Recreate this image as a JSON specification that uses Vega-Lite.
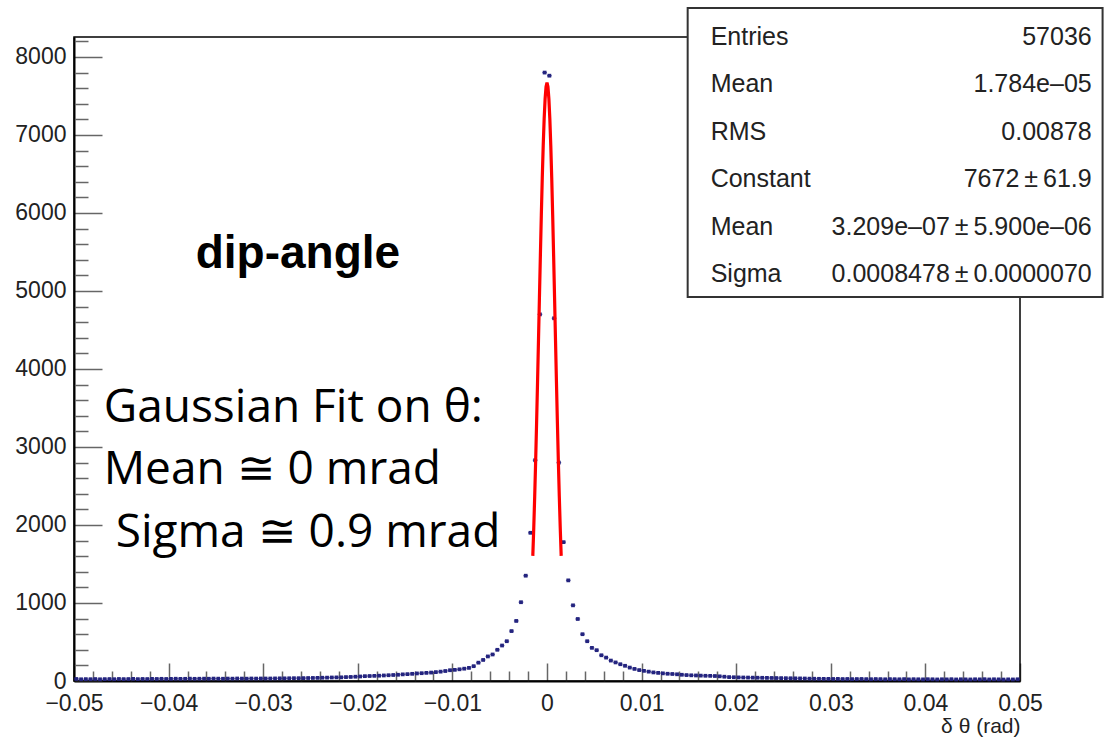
{
  "$schema": "https://vega.github.io/schema/vega-lite/v6.json",
  "width": 946,
  "height": 644,
  "autosize": "none",
  "padding": {"left": 74, "top": 37, "right": 92, "bottom": 59},
  "background": "white",
  "config": {"view": {"stroke": null}},
  "datasets": {
    "hist": [
      {"x": -0.04975, "n": 26}, {"x": -0.04925, "n": 22}, {"x": -0.04875, "n": 24}, {"x": -0.04825, "n": 23},
      {"x": -0.04775, "n": 25}, {"x": -0.04725, "n": 22}, {"x": -0.04675, "n": 24}, {"x": -0.04625, "n": 25},
      {"x": -0.04575, "n": 23}, {"x": -0.04525, "n": 26}, {"x": -0.04475, "n": 24}, {"x": -0.04425, "n": 25},
      {"x": -0.04375, "n": 27}, {"x": -0.04325, "n": 24}, {"x": -0.04275, "n": 26}, {"x": -0.04225, "n": 25},
      {"x": -0.04175, "n": 27}, {"x": -0.04125, "n": 26}, {"x": -0.04075, "n": 28}, {"x": -0.04025, "n": 26},
      {"x": -0.03975, "n": 27}, {"x": -0.03925, "n": 29}, {"x": -0.03875, "n": 27}, {"x": -0.03825, "n": 28},
      {"x": -0.03775, "n": 30}, {"x": -0.03725, "n": 28}, {"x": -0.03675, "n": 29}, {"x": -0.03625, "n": 30},
      {"x": -0.03575, "n": 29}, {"x": -0.03525, "n": 31}, {"x": -0.03475, "n": 30}, {"x": -0.03425, "n": 29},
      {"x": -0.03375, "n": 31}, {"x": -0.03325, "n": 30}, {"x": -0.03275, "n": 32}, {"x": -0.03225, "n": 31},
      {"x": -0.03175, "n": 30}, {"x": -0.03125, "n": 32}, {"x": -0.03075, "n": 31}, {"x": -0.03025, "n": 32},
      {"x": -0.02975, "n": 32}, {"x": -0.02925, "n": 32}, {"x": -0.02875, "n": 33}, {"x": -0.02825, "n": 34},
      {"x": -0.02775, "n": 34}, {"x": -0.02725, "n": 35}, {"x": -0.02675, "n": 36}, {"x": -0.02625, "n": 36},
      {"x": -0.02575, "n": 37}, {"x": -0.02525, "n": 38}, {"x": -0.02475, "n": 39}, {"x": -0.02425, "n": 40},
      {"x": -0.02375, "n": 42}, {"x": -0.02325, "n": 43}, {"x": -0.02275, "n": 45}, {"x": -0.02225, "n": 46},
      {"x": -0.02175, "n": 47}, {"x": -0.02125, "n": 50}, {"x": -0.02075, "n": 52}, {"x": -0.02025, "n": 55},
      {"x": -0.01975, "n": 58}, {"x": -0.01925, "n": 62}, {"x": -0.01875, "n": 64}, {"x": -0.01825, "n": 66},
      {"x": -0.01775, "n": 68}, {"x": -0.01725, "n": 71}, {"x": -0.01675, "n": 74}, {"x": -0.01625, "n": 77},
      {"x": -0.01575, "n": 80}, {"x": -0.01525, "n": 85}, {"x": -0.01475, "n": 88}, {"x": -0.01425, "n": 92},
      {"x": -0.01375, "n": 97}, {"x": -0.01325, "n": 100}, {"x": -0.01275, "n": 104}, {"x": -0.01225, "n": 108},
      {"x": -0.01175, "n": 114}, {"x": -0.01125, "n": 120}, {"x": -0.01075, "n": 128}, {"x": -0.01025, "n": 138},
      {"x": -0.00975, "n": 143}, {"x": -0.00925, "n": 150}, {"x": -0.00875, "n": 158}, {"x": -0.00825, "n": 168},
      {"x": -0.00775, "n": 190}, {"x": -0.00725, "n": 235}, {"x": -0.00675, "n": 270}, {"x": -0.00625, "n": 315},
      {"x": -0.00575, "n": 340}, {"x": -0.00525, "n": 400}, {"x": -0.00475, "n": 455}, {"x": -0.00425, "n": 510},
      {"x": -0.00375, "n": 640}, {"x": -0.00325, "n": 770}, {"x": -0.00275, "n": 1010}, {"x": -0.00225, "n": 1350},
      {"x": -0.00175, "n": 1900}, {"x": -0.00125, "n": 2830}, {"x": -0.00075, "n": 4700}, {"x": -0.00025, "n": 7800},
      {"x": 0.00025, "n": 7760}, {"x": 0.00075, "n": 4650}, {"x": 0.00125, "n": 2800}, {"x": 0.00175, "n": 1780},
      {"x": 0.00225, "n": 1290}, {"x": 0.00275, "n": 970}, {"x": 0.00325, "n": 795}, {"x": 0.00375, "n": 600},
      {"x": 0.00425, "n": 510}, {"x": 0.00475, "n": 425}, {"x": 0.00525, "n": 395}, {"x": 0.00575, "n": 330},
      {"x": 0.00625, "n": 300}, {"x": 0.00675, "n": 262}, {"x": 0.00725, "n": 238}, {"x": 0.00775, "n": 215},
      {"x": 0.00825, "n": 195}, {"x": 0.00875, "n": 172}, {"x": 0.00925, "n": 155}, {"x": 0.00975, "n": 140},
      {"x": 0.01025, "n": 130}, {"x": 0.01075, "n": 120}, {"x": 0.01125, "n": 110}, {"x": 0.01175, "n": 104},
      {"x": 0.01225, "n": 98}, {"x": 0.01275, "n": 93}, {"x": 0.01325, "n": 90}, {"x": 0.01375, "n": 86},
      {"x": 0.01425, "n": 80}, {"x": 0.01475, "n": 76}, {"x": 0.01525, "n": 73}, {"x": 0.01575, "n": 71},
      {"x": 0.01625, "n": 69}, {"x": 0.01675, "n": 67}, {"x": 0.01725, "n": 66}, {"x": 0.01775, "n": 64},
      {"x": 0.01825, "n": 60}, {"x": 0.01875, "n": 55}, {"x": 0.01925, "n": 50}, {"x": 0.01975, "n": 48},
      {"x": 0.02025, "n": 46}, {"x": 0.02075, "n": 45}, {"x": 0.02125, "n": 44}, {"x": 0.02175, "n": 43},
      {"x": 0.02225, "n": 42}, {"x": 0.02275, "n": 41}, {"x": 0.02325, "n": 40}, {"x": 0.02375, "n": 39},
      {"x": 0.02425, "n": 38}, {"x": 0.02475, "n": 37}, {"x": 0.02525, "n": 36}, {"x": 0.02575, "n": 35},
      {"x": 0.02625, "n": 34}, {"x": 0.02675, "n": 33}, {"x": 0.02725, "n": 32}, {"x": 0.02775, "n": 30},
      {"x": 0.02825, "n": 29}, {"x": 0.02875, "n": 28}, {"x": 0.02925, "n": 27}, {"x": 0.02975, "n": 27},
      {"x": 0.03025, "n": 26}, {"x": 0.03075, "n": 27}, {"x": 0.03125, "n": 25}, {"x": 0.03175, "n": 26},
      {"x": 0.03225, "n": 24}, {"x": 0.03275, "n": 25}, {"x": 0.03325, "n": 26}, {"x": 0.03375, "n": 24},
      {"x": 0.03425, "n": 23}, {"x": 0.03475, "n": 25}, {"x": 0.03525, "n": 24}, {"x": 0.03575, "n": 22},
      {"x": 0.03625, "n": 24}, {"x": 0.03675, "n": 23}, {"x": 0.03725, "n": 22}, {"x": 0.03775, "n": 24},
      {"x": 0.03825, "n": 21}, {"x": 0.03875, "n": 23}, {"x": 0.03925, "n": 22}, {"x": 0.03975, "n": 21},
      {"x": 0.04025, "n": 23}, {"x": 0.04075, "n": 22}, {"x": 0.04125, "n": 20}, {"x": 0.04175, "n": 22},
      {"x": 0.04225, "n": 21}, {"x": 0.04275, "n": 23}, {"x": 0.04325, "n": 20}, {"x": 0.04375, "n": 22},
      {"x": 0.04425, "n": 21}, {"x": 0.04475, "n": 20}, {"x": 0.04525, "n": 22}, {"x": 0.04575, "n": 21},
      {"x": 0.04625, "n": 23}, {"x": 0.04675, "n": 20}, {"x": 0.04725, "n": 22}, {"x": 0.04775, "n": 21},
      {"x": 0.04825, "n": 19}, {"x": 0.04875, "n": 21}, {"x": 0.04925, "n": 20}, {"x": 0.04975, "n": 22}
    ],
    "fit": [
      {"x": -0.0015, "f": 1603.8}, {"x": -0.0014, "f": 1962.3}, {"x": -0.0013, "f": 2367.8}, {"x": -0.0012, "f": 2817.6},
      {"x": -0.0011, "f": 3306.6}, {"x": -0.001, "f": 3826.6}, {"x": -0.0009, "f": 4367.2}, {"x": -0.0008, "f": 4915.3},
      {"x": -0.0007, "f": 5455.9}, {"x": -0.0006, "f": 5972.5}, {"x": -0.0005, "f": 6447.4}, {"x": -0.0004, "f": 6863.9},
      {"x": -0.0003, "f": 7206.4}, {"x": -0.0002, "f": 7461.5}, {"x": -0.0001, "f": 7618.8}, {"x": 0, "f": 7672},
      {"x": 0.0001, "f": 7618.8}, {"x": 0.0002, "f": 7461.5}, {"x": 0.0003, "f": 7206.4}, {"x": 0.0004, "f": 6863.9},
      {"x": 0.0005, "f": 6447.4}, {"x": 0.0006, "f": 5972.5}, {"x": 0.0007, "f": 5455.9}, {"x": 0.0008, "f": 4915.3},
      {"x": 0.0009, "f": 4367.2}, {"x": 0.001, "f": 3826.6}, {"x": 0.0011, "f": 3306.6}, {"x": 0.0012, "f": 2817.6},
      {"x": 0.0013, "f": 2367.8}, {"x": 0.0014, "f": 1962.3}, {"x": 0.0015, "f": 1603.8}
    ]
  },
  "layer": [
    {
      "data": {"values": [{}]},
      "mark": {"type": "rect", "filled": false, "stroke": "#000", "strokeWidth": 1.5},
      "encoding": {
        "x": {"datum": -0.05, "axis": null},
        "x2": {"datum": 0.05},
        "y": {"datum": 0, "axis": null},
        "y2": {"datum": 8256}
      }
    },
    {
      "data": {"name": "hist"},
      "mark": {"type": "tick", "orient": "horizontal", "size": 4.7, "thickness": 1.3, "color": "#24247f"},
      "encoding": {
        "x": {
          "field": "x", "type": "quantitative",
          "scale": {"domain": [-0.05, 0.05], "nice": false, "zero": false},
          "axis": {
            "orient": "bottom",
            "values": [-0.05, -0.04, -0.03, -0.02, -0.01, 0, 0.01, 0.02, 0.03, 0.04, 0.05],
            "tickSize": -18, "tickWidth": 1.5, "tickColor": "#666",
            "domainColor": "#000", "domainWidth": 2,
            "labelFont": "Liberation Sans", "labelFontSize": 23, "labelColor": "#222",
            "labelPadding": 29, "labelFlush": false, "labelOverlap": false,
            "labelExpr": "datum.value === 0 ? '0' : format(datum.value, '.2f')",
            "grid": false,
            "title": "δ θ (rad)", "titleFont": "Liberation Sans", "titleFontSize": 21,
            "titleFontWeight": "normal", "titleColor": "#222",
            "titleAlign": "right", "titleX": 946, "titleY": 34, "titleBaseline": "top"
          }
        },
        "y": {
          "field": "n", "type": "quantitative",
          "scale": {"domain": [0, 8256], "nice": false, "zero": false},
          "axis": {
            "orient": "left",
            "values": [0, 1000, 2000, 3000, 4000, 5000, 6000, 7000, 8000],
            "tickSize": -28, "tickWidth": 1.5, "tickColor": "#666",
            "domainColor": "#000", "domainWidth": 2,
            "labelFont": "Liberation Sans", "labelFontSize": 23, "labelColor": "#222",
            "labelPadding": 36, "labelFlush": false, "labelOverlap": false,
            "format": "d", "grid": false, "title": null
          }
        }
      }
    },
    {
      "data": {"name": "hist"},
      "mark": {"type": "point", "shape": "square", "filled": true, "size": 14, "color": "#24247f", "opacity": 1},
      "encoding": {
        "x": {"field": "x", "type": "quantitative", "axis": null},
        "y": {"field": "n", "type": "quantitative", "axis": null}
      }
    },
    {
      "data": {"name": "fit"},
      "mark": {"type": "line", "color": "#ff0000", "strokeWidth": 3.2, "interpolate": "linear"},
      "encoding": {
        "x": {
          "field": "x", "type": "quantitative",
          "axis": {
            "orient": "bottom",
            "values": [-0.048, -0.046, -0.044, -0.042, -0.038, -0.036, -0.034, -0.032, -0.028, -0.026, -0.024, -0.022, -0.018, -0.016, -0.014, -0.012, -0.008, -0.006, -0.004, -0.002, 0.002, 0.004, 0.006, 0.008, 0.012, 0.014, 0.016, 0.018, 0.022, 0.024, 0.026, 0.028, 0.032, 0.034, 0.036, 0.038, 0.042, 0.044, 0.046, 0.048],
            "tickSize": -10, "tickWidth": 1.5, "tickColor": "#666",
            "domain": false, "labels": false, "grid": false, "title": null
          }
        },
        "y": {
          "field": "f", "type": "quantitative",
          "axis": {
            "orient": "left",
            "values": [200, 400, 600, 800, 1200, 1400, 1600, 1800, 2200, 2400, 2600, 2800, 3200, 3400, 3600, 3800, 4200, 4400, 4600, 4800, 5200, 5400, 5600, 5800, 6200, 6400, 6600, 6800, 7200, 7400, 7600, 7800, 8200],
            "tickSize": -14, "tickWidth": 1.5, "tickColor": "#666",
            "domain": false, "labels": false, "grid": false, "title": null
          }
        }
      }
    },
    {
      "data": {"values": [{}]},
      "mark": {"type": "rect", "fill": "#ffffff", "stroke": "#333", "strokeWidth": 2},
      "encoding": {
        "x": {"datum": 0.01487, "axis": null},
        "x2": {"datum": 0.05873},
        "y": {"datum": 4923, "axis": null},
        "y2": {"datum": 8628}
      }
    },
    {
      "data": {"values": [{}]},
      "mark": {
        "type": "text", "align": "left", "baseline": "alphabetic",
        "font": "Liberation Sans", "fontSize": 25, "color": "#222", "lineHeight": 47.5,
        "text": ["Entries", "Mean", "RMS", "Constant", "Mean", "Sigma"]
      },
      "encoding": {
        "x": {"datum": 0.0173, "axis": null},
        "y": {"datum": 8154, "axis": null}
      }
    },
    {
      "data": {"values": [{}]},
      "mark": {
        "type": "text", "align": "right", "baseline": "alphabetic",
        "font": "Liberation Sans", "fontSize": 25, "color": "#222", "lineHeight": 47.5,
        "text": ["57036", "1.784e–05", "0.00878", "7672\u2009±\u200961.9", "3.209e–07\u2009±\u20095.900e–06", "0.0008478\u2009±\u20090.0000070"]
      },
      "encoding": {
        "x": {"datum": 0.05758, "axis": null},
        "y": {"datum": 8154, "axis": null}
      }
    },
    {
      "data": {"values": [{}]},
      "mark": {
        "type": "text", "align": "left", "baseline": "alphabetic",
        "font": "Liberation Sans", "fontSize": 46, "fontWeight": "bold", "color": "#000",
        "text": "dip-angle"
      },
      "encoding": {
        "x": {"datum": -0.03714, "axis": null},
        "y": {"datum": 5295, "axis": null}
      }
    },
    {
      "data": {"values": [{}]},
      "mark": {
        "type": "text", "align": "left", "baseline": "alphabetic",
        "font": "Open Sans", "fontSize": 46, "color": "#000", "lineHeight": 62.5,
        "text": ["Gaussian Fit on θ:", "Mean ≅ 0 mrad"]
      },
      "encoding": {
        "x": {"datum": -0.04686, "axis": null},
        "y": {"datum": 3321, "axis": null}
      }
    },
    {
      "data": {"values": [{}]},
      "mark": {
        "type": "text", "align": "left", "baseline": "alphabetic",
        "font": "Open Sans", "fontSize": 46, "color": "#000",
        "text": "Sigma ≅ 0.9 mrad"
      },
      "encoding": {
        "x": {"datum": -0.04559, "axis": null},
        "y": {"datum": 1718, "axis": null}
      }
    }
  ],
  "resolve": {"axis": {"x": "independent", "y": "independent"}}
}
